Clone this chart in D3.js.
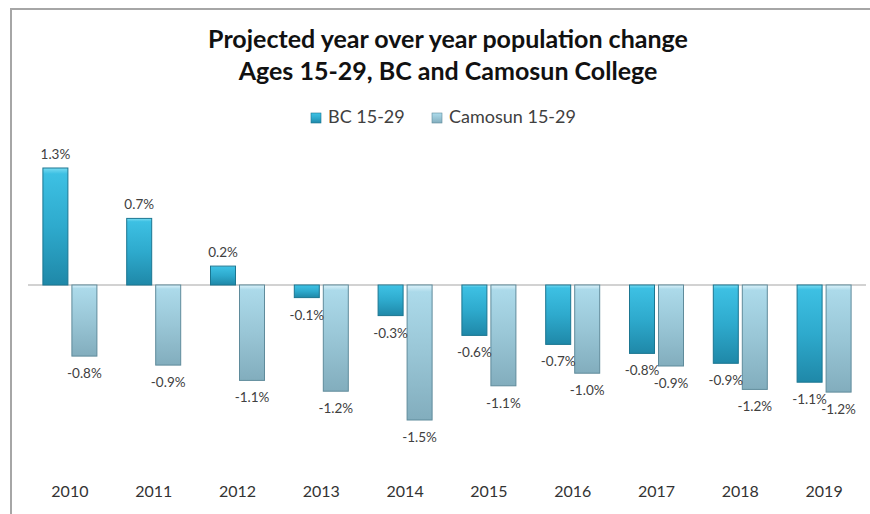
<!DOCTYPE html>
<html>
<head>
<meta charset="utf-8">
<title>Projected year over year population change</title>
<script src="https://d3js.org/d3.v7.min.js"></script>
<style>
  body { margin: 0; background: #fff; font-family: Lato, "Open Sans", sans-serif; }
  svg { display: block; }
</style>
</head>
<body>
<div id="chart"></div>
<script>
// data (percent)
var years = ["2010", "2011", "2012", "2013", "2014", "2015", "2016", "2017", "2018", "2019"];
var seriesNames = ["BC 15-29", "Camosun 15-29"];
var bcValues = [1.3, 0.74, 0.21, -0.14, -0.34, -0.56, -0.66, -0.76, -0.87, -1.08];
var camosunValues = [-0.79, -0.89, -1.06, -1.18, -1.5, -1.12, -0.98, -0.9, -1.16, -1.19];
var titleLines = ["Projected year over year population change", "Ages 15-29, BC and Camosun College"];

var width = 870, height = 514;

var svg = d3.select("#chart").append("svg")
    .attr("width", width)
    .attr("height", height);

var defs = svg.append("defs");
function gradient(id, stops) {
  var g = defs.append("linearGradient").attr("id", id)
      .attr("x1", 0).attr("y1", 0).attr("x2", 0).attr("y2", 1);
  stops.forEach(function(s) {
    g.append("stop").attr("offset", s[0]).attr("stop-color", s[1]);
  });
}
gradient("gBC", [["0", "#7adcf2"], ["0.05", "#3dc0e3"], ["0.5", "#2eaacd"], ["1", "#1f88a8"]]);
gradient("gCam", [["0", "#dcf2fa"], ["0.05", "#acdaea"], ["0.5", "#99c6d6"], ["1", "#82adbd"]]);

var fills = { "BC 15-29": "url(#gBC)", "Camosun 15-29": "url(#gCam)" };
var strokes = { "BC 15-29": "#1b7691", "Camosun 15-29": "#5f8b9b" };

// chart frame (only top and left edges show)
svg.append("path")
    .attr("d", "M11,514 L11,9 L870,9")
    .attr("fill", "none")
    .attr("stroke", "#a6a6a6")
    .attr("stroke-width", 2);

// title
svg.append("g").selectAll("text")
    .data(titleLines)
    .enter().append("text")
    .attr("x", 448)
    .attr("y", function(d, i) { return 48 + i * 32; })
    .attr("text-anchor", "middle")
    .style("font-size", "25px")
    .style("font-weight", "bold")
    .style("fill", "#111")
    .text(function(d) { return d; });

// scales
var x = d3.scaleBand().domain(years).range([28, 866]);
var xInner = d3.scaleBand().domain(seriesNames).range([-27, 27]).paddingInner(0.138);
var y = d3.scaleLinear().domain([-2, 1.5]).range([465, 150]);

// legend
var legendX = [311, 432];
var legend = svg.append("g").selectAll("g")
    .data(seriesNames)
    .enter().append("g")
    .attr("transform", function(d, i) { return "translate(" + legendX[i] + ",110)"; });
legend.append("rect")
    .attr("width", 10).attr("height", 10)
    .attr("y", 3)
    .attr("fill", function(d) { return fills[d]; })
    .attr("stroke", function(d) { return strokes[d]; })
    .attr("stroke-width", 0.6);
legend.append("text")
    .attr("x", 17)
    .attr("y", 13)
    .style("font-size", "18px")
    .style("fill", "#404040")
    .text(function(d) { return d; });

// zero line
svg.append("line")
    .attr("x1", 28).attr("x2", 866)
    .attr("y1", y(0)).attr("y2", y(0))
    .attr("stroke", "#a6a6a6")
    .attr("stroke-width", 1.2);

var rows = [];
years.forEach(function(yr, i) {
  rows.push({ year: yr, series: seriesNames[0], value: bcValues[i] });
  rows.push({ year: yr, series: seriesNames[1], value: camosunValues[i] });
});

// bars
svg.append("g").selectAll("rect")
    .data(rows)
    .enter().append("rect")
    .attr("x", function(d) { return x(d.year) + x.bandwidth() / 2 + xInner(d.series); })
    .attr("width", xInner.bandwidth())
    .attr("y", function(d) { return Math.min(y(d.value), y(0)); })
    .attr("height", function(d) { return Math.abs(y(d.value) - y(0)); })
    .attr("fill", function(d) { return fills[d.series]; })
    .attr("stroke", function(d) { return strokes[d.series]; })
    .attr("stroke-width", 1);

// data labels
svg.append("g").selectAll("text")
    .data(rows)
    .enter().append("text")
    .attr("x", function(d) { return x(d.year) + x.bandwidth() / 2 + xInner(d.series) + xInner.bandwidth() / 2; })
    .attr("y", function(d) { return d.value >= 0 ? y(d.value) - 9 : y(d.value) + 22; })
    .attr("text-anchor", "middle")
    .style("font-size", "13.5px")
    .style("fill", "#404040")
    .text(function(d) { return d.value.toFixed(1) + "%"; });

// category axis, labels placed low
var xAxis = svg.append("g")
    .attr("transform", "translate(0,470)")
    .call(d3.axisBottom(x).tickSize(0).tickPadding(16));
xAxis.select(".domain").remove();
xAxis.selectAll("text")
    .style("font-family", "Lato, 'Open Sans', sans-serif")
    .style("font-size", "16px")
    .style("fill", "#333");
</script>
</body>
</html>
